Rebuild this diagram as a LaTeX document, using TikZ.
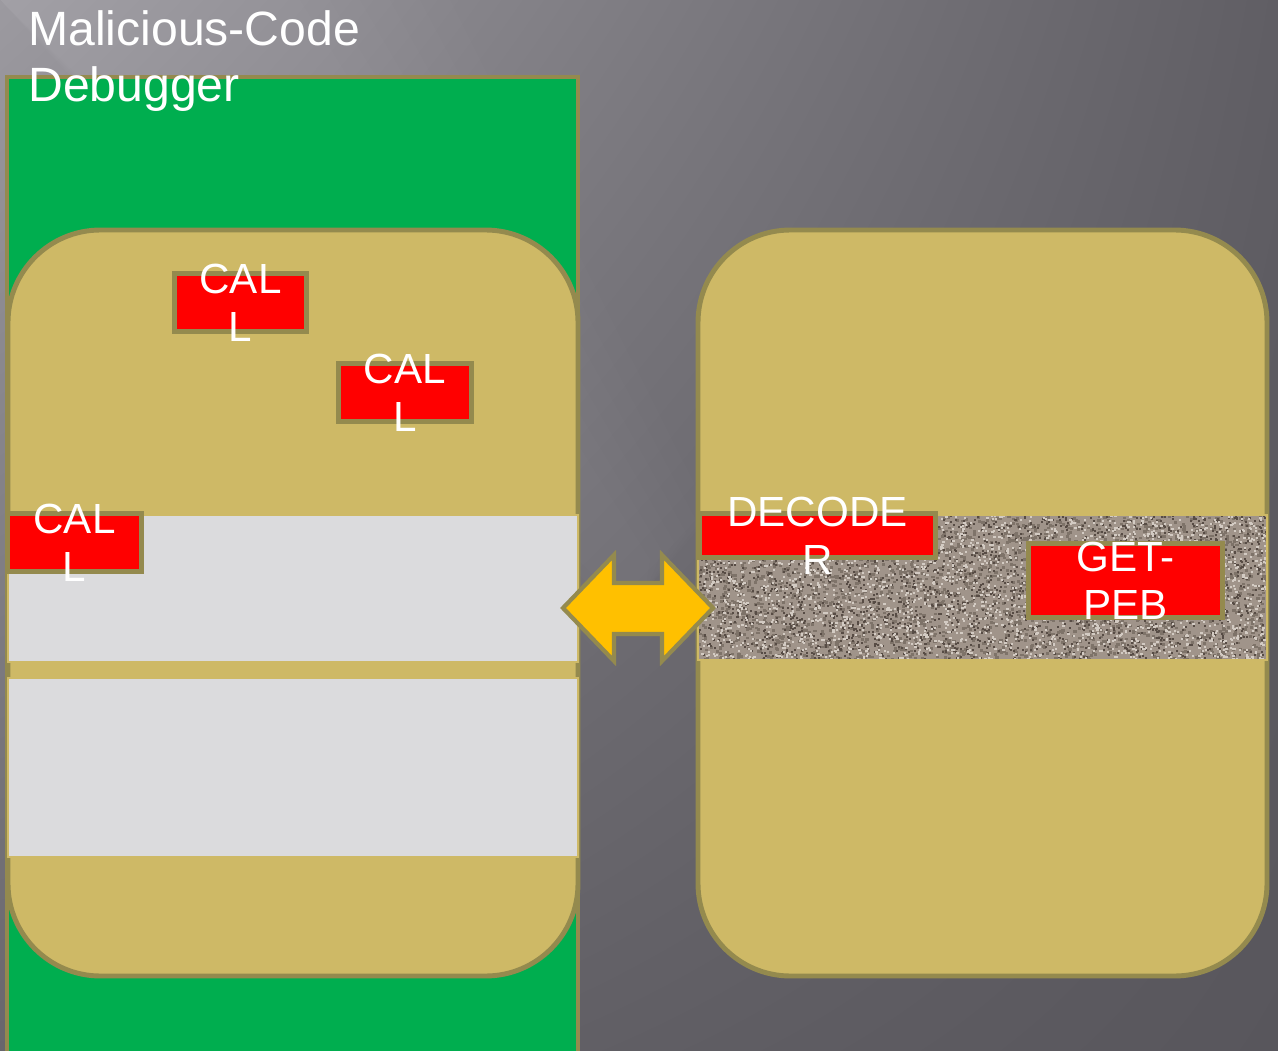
\documentclass[tikz,border=0pt]{standalone}
\usepackage{fontspec}
\setmainfont{Liberation Sans}
\usetikzlibrary{shadings}

\definecolor{boardgreen}{HTML}{00AE4F}
\definecolor{cardtan}{HTML}{CEB966}
\definecolor{rimolive}{HTML}{948A4E}
\definecolor{bandgray}{HTML}{DBDBDD}
\definecolor{swapyellow}{HTML}{FFC000}
\definecolor{gritbase}{HTML}{A0948A}
\definecolor{gritmid}{HTML}{7E7369}
\definecolor{gritdark}{HTML}{574C45}
\definecolor{gritlight}{HTML}{D3CBC3}
\definecolor{slateUL}{HTML}{9C9AA0}
\definecolor{slateUR}{HTML}{605E64}
\definecolor{slateLL}{HTML}{68666C}
\definecolor{slateLR}{HTML}{58565C}

\tikzset{
  card/.style={fill=cardtan, draw=rimolive, line width=2.8pt, rounded corners=1.85cm},
  band/.style={fill=bandgray, draw=cardtan, line width=1.6pt},
  callbox/.style={fill=red, draw=rimolive, line width=2.8pt, inner sep=0pt},
  calltext/.style={text=white, align=center, inner sep=0pt, font=\fontsize{24}{27.2}\selectfont},
}

\begin{document}
\begin{tikzpicture}[x=0.02cm, y=-0.02cm]
    \useasboundingbox (0,0) rectangle (1278,1051);
    \clip (0,0) rectangle (1278,1051);
    % Slide background
    \shade[upper left=slateUL, upper right=slateUR, lower left=slateLL, lower right=slateLR]
        (0,0) rectangle (1278,1051);
    % soft light streak
    \foreach \w in {0,30,...,150}{
        \fill[white, opacity=0.012] (0,0) -- ({300+\w},0) -- ({650+0.4*\w},{560-0.3*\w}) -- ({640-0.3*\w},{620+0.2*\w}) -- cycle;
    }

    % Debugger frame
    \draw[fill=boardgreen, draw=rimolive, line width=2.6pt] (7,77) rectangle (578,1080);

    % Left process
    \draw[card] (8,230) rectangle (578,976);
    \draw[band] (8,515) rectangle (578,662);
    \draw[band] (8,678) rectangle (578,857);

    % Right process
    \draw[card] (698,230) rectangle (1267,976);
    \begin{scope}
        \clip (698,515) rectangle (1267,660);
        \fill[gritbase] (698,515) rectangle (1267,660);
        \pgfmathsetseed{42}
        \foreach \i in {1,...,2600}{
            \pgfmathsetmacro\gx{698+569*rnd}
            \pgfmathsetmacro\gy{515+145*rnd}
            \fill[gritmid] (\gx,\gy) rectangle ++(3.2,2.6);
        }
        \foreach \i in {1,...,2200}{
            \pgfmathsetmacro\gx{698+569*rnd}
            \pgfmathsetmacro\gy{515+145*rnd}
            \fill[gritdark] (\gx,\gy) rectangle ++(2,2);
        }
        \foreach \i in {1,...,2400}{
            \pgfmathsetmacro\gx{698+569*rnd}
            \pgfmathsetmacro\gy{515+145*rnd}
            \fill[gritlight] (\gx,\gy) rectangle ++(2.2,2);
        }
    \end{scope}
    \draw[cardtan, line width=1.6pt] (698,515) rectangle (1267,660);

    % Exchange arrow
    \draw[fill=swapyellow, draw=rimolive, line width=2.4pt, line join=miter]
        (563,608) -- (614,555) -- (614,583) -- (662,583) -- (662,555) -- (713,608)
        -- (662,661) -- (662,634) -- (614,634) -- (614,661) -- cycle;

    % Calls
    \node[callbox, minimum width=2.64cm, minimum height=1.16cm] (call1) at (240.5,302.5) {};
    \node[calltext] (call1txt) at (call1) {CAL\\L};
    \node[callbox, minimum width=2.66cm, minimum height=1.16cm] (call2) at (405,392.5) {};
    \node[calltext] (call2txt) at (call2) {CAL\\L};
    \node[callbox, minimum width=2.68cm, minimum height=1.16cm] (call3) at (74.5,542.5) {};
    \node[calltext] (call3txt) at (call3) {CAL\\L};
    \node[callbox, minimum width=4.72cm, minimum height=0.88cm] (decoder) at (817.5,535.5) {};
    \node[calltext] (decodertxt) at (decoder) {DECODE\\R};
    \node[callbox, minimum width=3.88cm, minimum height=1.48cm] (getpeb) at (1125.5,580.5) {};
    \node[calltext] (getpebtxt) at (getpeb) {GET-\\PEB};

    % Title
    \node[text=white, align=left, anchor=north west, inner sep=0pt, font=\fontsize{27.4}{32.3}\selectfont]
        (title) at (28,10) {Malicious-Code\\Debugger};
\end{tikzpicture}
\end{document}
